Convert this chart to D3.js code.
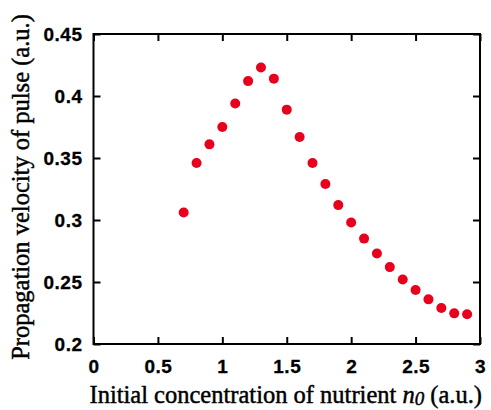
<!DOCTYPE html>
<html>
<head>
<meta charset="utf-8">
<script src="https://cdn.jsdelivr.net/npm/d3@7"></script>
<style>
  body { margin: 0; background: #fff; }
  .axis-title { font-family: "Liberation Serif", "Times New Roman", serif; font-size: 24.5px; fill: #000; stroke: #000; stroke-width: 0.45px; }
</style>
</head>
<body>
<div id="wrapper"></div>
<script>
// data
const concentration = [0.7, 0.8, 0.9, 1.0, 1.1, 1.2, 1.3, 1.4, 1.5, 1.6, 1.7, 1.8, 1.9,
  2.0, 2.1, 2.2, 2.3, 2.4, 2.5, 2.6, 2.7, 2.8, 2.9]
const velocity = [0.306, 0.346, 0.361, 0.375, 0.394, 0.412, 0.423, 0.414, 0.389, 0.367, 0.346, 0.329, 0.312,
  0.298, 0.285, 0.273, 0.262, 0.252, 0.2435, 0.236, 0.229, 0.2247, 0.224]
const xTicks = [0, 0.5, 1, 1.5, 2, 2.5, 3]
const yTicks = [0.2, 0.25, 0.3, 0.35, 0.4, 0.45]

const dataset = concentration.map((c, i) => ({ n: c, v: velocity[i] }))

function drawChart() {
  const dimensions = {
    width: 491,
    height: 410,
    margin: { top: 34, right: 11, bottom: 66, left: 93.5 },
  }
  dimensions.boundedWidth = dimensions.width - dimensions.margin.left - dimensions.margin.right
  dimensions.boundedHeight = dimensions.height - dimensions.margin.top - dimensions.margin.bottom

  const wrapper = d3.select("#wrapper")
    .append("svg")
    .attr("width", dimensions.width)
    .attr("height", dimensions.height)

  const bounds = wrapper.append("g")
    .attr("transform", `translate(${dimensions.margin.left},${dimensions.margin.top})`)

  const xScale = d3.scaleLinear()
    .domain([0, 3])
    .range([0, dimensions.boundedWidth])

  const yScale = d3.scaleLinear()
    .domain([0.2, 0.45])
    .range([dimensions.boundedHeight, 0])

  const tickLen = 7

  // axes, ticks point inward
  const xAxis = bounds.append("g")
    .attr("transform", `translate(0,${dimensions.boundedHeight})`)
    .call(d3.axisBottom(xScale).tickValues(xTicks).tickSize(-tickLen).tickPadding(16).tickFormat(d3.format("")))
  const xTop = bounds.append("g")
    .call(d3.axisTop(xScale).tickValues(xTicks).tickSize(-tickLen).tickFormat(""))
  const yAxis = bounds.append("g")
    .call(d3.axisLeft(yScale).tickValues(yTicks).tickSize(-tickLen).tickPadding(11).tickFormat(d3.format("")))
  const yRight = bounds.append("g")
    .attr("transform", `translate(${dimensions.boundedWidth},0)`)
    .call(d3.axisRight(yScale).tickValues(yTicks).tickSize(-tickLen).tickFormat(""))

  ;[xAxis, xTop, yAxis, yRight].forEach(a => {
    a.select(".domain").remove()
    a.attr("font-family", null).attr("font-size", null)
    a.selectAll(".tick line").attr("stroke", "#000").attr("stroke-width", 2)
    a.selectAll(".tick text")
      .style("font-family", "'Liberation Sans', Arial, sans-serif")
      .style("font-weight", "bold")
      .style("font-size", "19px")
      .style("letter-spacing", "0.5px")
      .style("fill", "#000")
      .style("stroke", "#000")
      .style("stroke-width", "0.3px")
  })
  xAxis.selectAll(".tick text").attr("dy", "0.71em")

  // frame
  bounds.append("rect")
    .attr("width", dimensions.boundedWidth)
    .attr("height", dimensions.boundedHeight)
    .attr("fill", "none")
    .attr("stroke", "#000")
    .attr("stroke-width", 2)

  bounds.selectAll(".dot")
    .data(dataset)
    .enter().append("circle")
    .attr("class", "dot")
    .attr("cx", d => xScale(d.n))
    .attr("cy", d => yScale(d.v))
    .attr("r", 5)
    .attr("fill", "#e8001c")

  // axis titles
  const xTitle = wrapper.append("text")
    .attr("class", "axis-title")
    .attr("x", dimensions.margin.left + dimensions.boundedWidth / 2 - 1)
    .attr("y", 403)
    .attr("text-anchor", "middle")
  xTitle.append("tspan").text("Initial concentration of nutrient ")
  xTitle.append("tspan").attr("font-style", "italic").text("n")
  xTitle.append("tspan").attr("font-style", "italic").attr("font-size", "19px").attr("dy", 2).text("0")
  xTitle.append("tspan").attr("dy", -2).text(" (a.u.)")

  wrapper.append("text")
    .attr("class", "axis-title")
    .attr("transform", `translate(28.5,${dimensions.margin.top + dimensions.boundedHeight / 2 - 2}) rotate(-90)`)
    .attr("text-anchor", "middle")
    .text("Propagation velocity of pulse (a.u.)")
}
drawChart()
</script>
</body>
</html>
